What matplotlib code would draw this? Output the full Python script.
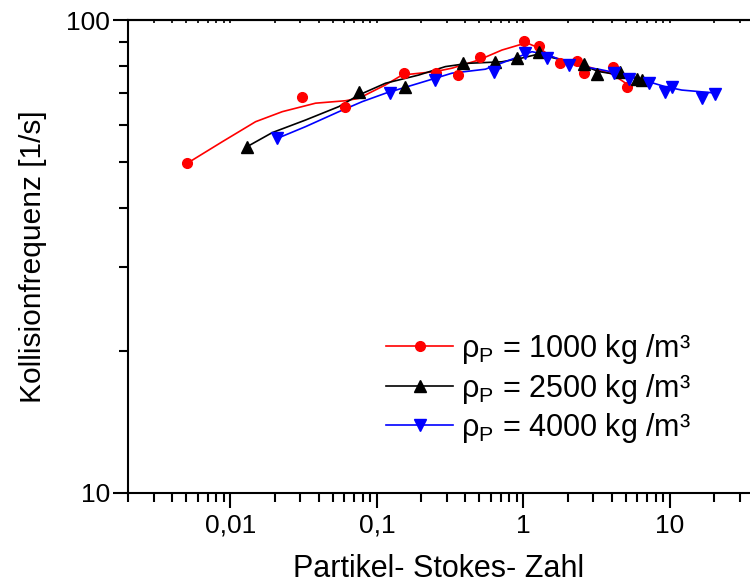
import matplotlib
matplotlib.use("Agg")
import matplotlib.pyplot as plt
from matplotlib.ticker import LogLocator, FixedLocator, FixedFormatter, NullFormatter

plt.rcParams['font.family'] = ['Liberation Sans', 'DejaVu Sans']
plt.rcParams['mathtext.fontset'] = 'custom'
plt.rcParams['mathtext.rm'] = 'Liberation Sans'
plt.rcParams['mathtext.it'] = 'Liberation Sans:italic'

# measured points (Stokes number, collision frequency 1/s)
st_1000 = [0.00508, 0.0306, 0.0604, 0.1525, 0.2532, 0.358, 0.503, 1.008, 1.269, 1.782, 2.316, 2.573, 4.075, 5.077]
f_1000 = [49.8, 68.85, 65.4, 77.4, 77.4, 76.5, 83.4, 90.4, 88.3, 81.0, 82.0, 77.3, 79.7, 72.3]

st_2500 = [0.01303, 0.0752, 0.1549, 0.387, 0.6424, 0.9031, 1.269, 2.573, 3.170, 4.570, 5.937, 6.425]
f_2500 = [54.0, 70.5, 72.05, 81.3, 81.4, 83.0, 85.7, 80.7, 76.9, 77.8, 74.9, 74.7]

st_4000 = [0.02089, 0.1236, 0.2482, 0.6264, 1.029, 1.446, 2.033, 4.12, 5.213, 7.136, 9.261, 10.29, 16.48, 20.2]
f_4000 = [56.2, 70.0, 74.7, 77.8, 85.05, 83.3, 80.35, 77.4, 74.9, 73.5, 70.5, 72.0, 68.3, 69.8]

# smoothed curves drawn through the data
cx_1000 = [0.00508, 0.00881, 0.01485, 0.02259, 0.0381, 0.061, 0.0752, 0.1143, 0.1485, 0.2505, 0.3257,
           0.495, 0.7136, 0.9275, 1.056, 1.275, 1.564, 2.141, 2.931, 4.011, 5.077]
cy_1000 = [49.8, 55.3, 60.95, 64.0, 66.7, 67.5, 68.3, 72.9, 76.5, 77.8, 79.1,
           82.3, 86.4, 88.5, 89.4, 87.3, 83.5, 81.5, 79.2, 76.9, 73.25]

cx_2500 = [0.01303, 0.0193, 0.03257, 0.05497, 0.0752, 0.1143, 0.193, 0.2931, 0.423, 0.7136,
           0.9767, 1.275, 1.485, 2.504, 3.256, 5.49, 6.732]
cy_2500 = [54.0, 57.8, 61.45, 65.6, 69.4, 73.5, 76.5, 79.7, 81.0, 81.6,
           83.1, 84.75, 83.65, 80.35, 77.8, 75.9, 74.7]

cx_4000 = [0.02089, 0.03257, 0.05497, 0.0793, 0.1143, 0.193, 0.3257, 0.5491, 0.9275, 1.143, 1.485,
           1.928, 2.504, 3.256, 4.225, 5.49, 7.136, 9.261, 12.04, 20.2]
cy_4000 = [56.2, 59.5, 64.0, 67.2, 70.0, 73.5, 77.2, 78.7, 83.65, 85.7, 84.3,
           81.6, 79.7, 78.7, 77.4, 75.6, 74.05, 72.3, 71.1, 70.1]

x_ticks = [0.01, 0.1, 1, 10]
x_labels = ['0,01', '0,1', '1', '10']
y_ticks = [10, 100]
y_labels = ['10', '100']

fig = plt.figure(figsize=(7.5, 5.85), dpi=100)
ax = fig.add_axes([128 / 750, 1 - 493 / 585, (816.5 - 128) / 750, 473 / 585])

series = [
    (cx_1000, cy_1000, st_1000, f_1000, '#ff0000', 'o', 7, 'ρ$_{\\mathrm{P}}$ = 1000 kg /m³'),
    (cx_2500, cy_2500, st_2500, f_2500, '#000000', '^', 9, 'ρ$_{\\mathrm{P}}$ = 2500 kg /m³'),
    (cx_4000, cy_4000, st_4000, f_4000, '#0000ff', 'v', 9, 'ρ$_{\\mathrm{P}}$ = 4000 kg /m³'),
]
handles = []
for cx, cy, sx, sy, col, mk, ms, lab in series:
    ax.plot(cx, cy, color=col, lw=1.2, zorder=2)
    ax.plot(sx, sy, ls='none', marker=mk, ms=ms, color=col, mec=col, zorder=3)
    h, = ax.plot([], [], color=col, lw=1.2, marker=mk, ms=ms, mec=col, label=lab)
    handles.append(h)

ax.set_xscale('log')
ax.set_yscale('log')
ax.set_xlim(0.002, 100)
ax.set_ylim(10, 100)

ax.xaxis.set_major_locator(FixedLocator(x_ticks))
ax.xaxis.set_major_formatter(FixedFormatter(x_labels))
ax.xaxis.set_minor_locator(LogLocator(base=10, subs=range(2, 10), numticks=20))
ax.xaxis.set_minor_formatter(NullFormatter())
ax.yaxis.set_major_locator(FixedLocator(y_ticks))
ax.yaxis.set_major_formatter(FixedFormatter(y_labels))
ax.yaxis.set_minor_locator(LogLocator(base=10, subs=range(2, 10), numticks=20))
ax.yaxis.set_minor_formatter(NullFormatter())

for s in ['left', 'bottom', 'top']:
    ax.spines[s].set_linewidth(1.5)
ax.spines['right'].set_visible(False)

ax.tick_params(axis='both', which='major', direction='out', length=11, width=1.5, labelsize=19, pad=2)
ax.tick_params(axis='both', which='minor', direction='out', length=6.5, width=1.5)
ax.tick_params(axis='x', which='major', pad=4)

# tiny inward ticks on the top edge
top = ax.secondary_xaxis('top')
top.set_xscale('log')
top.xaxis.set_major_locator(FixedLocator(x_ticks))
top.xaxis.set_minor_locator(LogLocator(base=10, subs=range(2, 10), numticks=20))
top.xaxis.set_major_formatter(NullFormatter())
top.xaxis.set_minor_formatter(NullFormatter())
top.tick_params(which='both', direction='in', length=2, width=1.2)
top.spines['top'].set_linewidth(1.5)

ax.set_xlabel('Partikel- Stokes- Zahl', fontsize=22, labelpad=10)
ax.xaxis.set_label_coords((439 - 128) / (816.5 - 128), -0.13)
ax.set_ylabel('Kollisionfrequenz [1/s]', fontsize=21.5, labelpad=14)

leg = ax.legend(handles=handles, loc='upper left', bbox_to_anchor=(386 / 750, 1 - 332 / 585),
                bbox_transform=fig.transFigure, frameon=False, fontsize=22,
                handlelength=2.2, handletextpad=0.25, labelspacing=0.18, borderpad=0, borderaxespad=0)

fig.savefig('out.png', dpi=100)
